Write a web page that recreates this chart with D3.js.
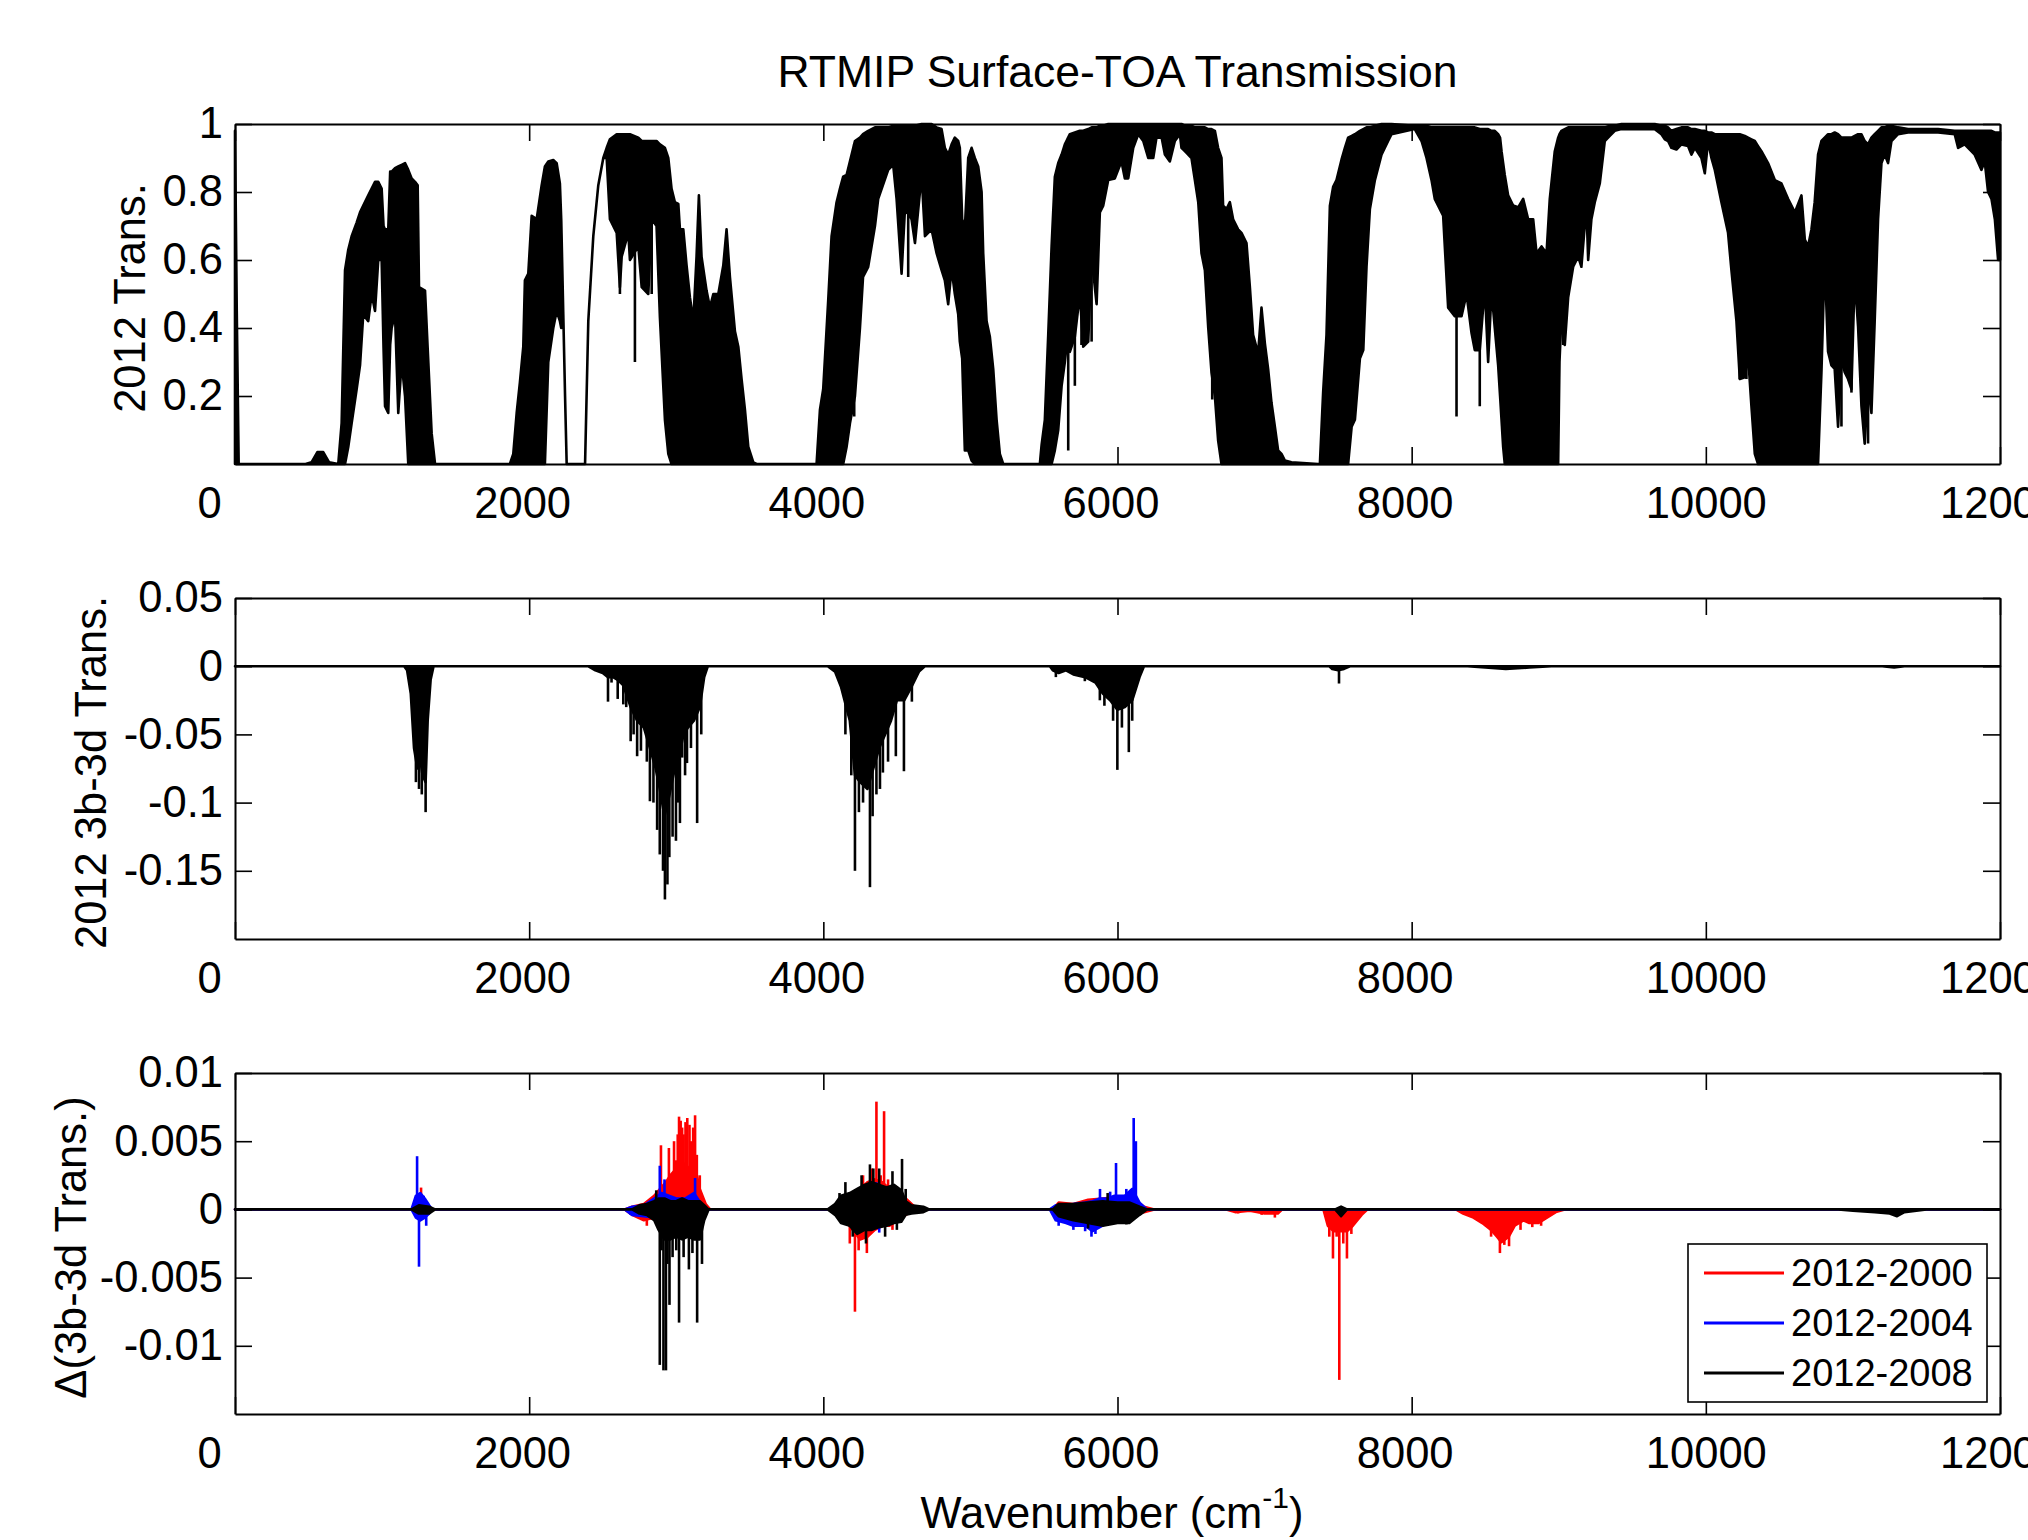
<!DOCTYPE html>
<html>
<head>
<meta charset="utf-8">
<script src="https://cdn.jsdelivr.net/npm/d3@7"></script>
<style>
  html, body { margin: 0; padding: 0; background: #fff; }
  svg { display: block; }
</style>
</head>
<body>
<svg id="chart" width="2028" height="1540"></svg>
<script>
//--------------------------------------------------
// data
//--------------------------------------------------

var xTicks = [0, 2000, 4000, 6000, 8000, 10000, 12000];
var transTicks = [0.2, 0.4, 0.6, 0.8, 1];
var diffTicks = [-0.15, -0.1, -0.05, 0, 0.05];
var deltaTicks = [-0.01, -0.005, 0, 0.005, 0.01];

var seriesNames = ['2012-2000', '2012-2004', '2012-2008'];
var seriesColors = ['#ff0000', '#0000ff', '#000000'];

// 2012 transmission: [wavenumber, lower envelope, upper envelope]
var transBand = [
  [0, 0, 0.98], [12, 0, 0.45], [25, 0, 0], [480, 0, 0], [520, 0, 0.005], [560, 0, 0.035], [600, 0, 0.035], [640, 0, 0.005], [702, 0, 0],
  [725, 0, 0.12], [748, 0, 0.57], [770, 0.05, 0.63], [793, 0.12, 0.67], [827, 0.22, 0.71], [850, 0.29, 0.74], [872, 0.44, 0.76],
  [906, 0.42, 0.79], [929, 0.5, 0.81], [952, 0.45, 0.83], [974, 0.6, 0.83], [997, 0.6, 0.81], [1010, 0.34, 0.7], [1020, 0.17, 0.69],
  [1042, 0.15, 0.69], [1055, 0.35, 0.86], [1065, 0.4, 0.86], [1088, 0.44, 0.87], [1110, 0.15, 0.875], [1133, 0.3, 0.88],
  [1156, 0.2, 0.885], [1178, 0, 0.865], [1201, 0, 0.84], [1224, 0, 0.83], [1242, 0, 0.82], [1251, 0, 0.52], [1292, 0, 0.51],
  [1310, 0, 0.34], [1337, 0, 0.09], [1360, 0, 0],
  [1869, 0, 0], [1892, 0, 0.03], [1915, 0, 0.15], [1937, 0, 0.24], [1960, 0, 0.345], [1971, 0, 0.54], [1994, 0, 0.56],
  [2017, 0, 0.73], [2051, 0, 0.72], [2085, 0, 0.82], [2107, 0, 0.875], [2130, 0.3, 0.89], [2164, 0.4, 0.894], [2187, 0.45, 0.885],
  [2209, 0.42, 0.825], [2218, 0.4, 0.72], [2232, 0.44, 0.44], [2244, 0.2, 0.2], [2255, 0, 0],
  [2380, 0, 0], [2402, 0.42, 0.42], [2436, 0.67, 0.67], [2470, 0.82, 0.82], [2504, 0.9, 0.9], [2527, 0.9, 0.93], [2549, 0.72, 0.955],
  [2595, 0.68, 0.97], [2617, 0.52, 0.97], [2629, 0.61, 0.97], [2674, 0.68, 0.97], [2685, 0.6, 0.97], [2742, 0.64, 0.96],
  [2765, 0.52, 0.95], [2810, 0.5, 0.95], [2833, 0.72, 0.95], [2866, 0.7, 0.95], [2889, 0.43, 0.94], [2923, 0.13, 0.93],
  [2946, 0.03, 0.9], [2968, 0, 0.81], [2991, 0, 0.77], [3014, 0, 0.765], [3025, 0, 0.69], [3048, 0, 0.69], [3070, 0, 0.585],
  [3093, 0, 0.49], [3116, 0, 0.42], [3138, 0, 0.61], [3154, 0, 0.79], [3172, 0, 0.61], [3206, 0, 0.51], [3229, 0, 0.46],
  [3252, 0, 0.5], [3286, 0, 0.5], [3320, 0, 0.585], [3342, 0, 0.69], [3365, 0, 0.55], [3399, 0, 0.39], [3422, 0, 0.345],
  [3444, 0, 0.25], [3467, 0, 0.16], [3490, 0, 0.05], [3524, 0, 0.005], [3546, 0, 0],
  [3954, 0, 0], [3977, 0, 0.16], [3999, 0, 0.22], [4033, 0, 0.48], [4056, 0, 0.67], [4090, 0, 0.77], [4113, 0, 0.81],
  [4135, 0, 0.845], [4158, 0.05, 0.85], [4181, 0.12, 0.89], [4215, 0.2, 0.95], [4249, 0.4, 0.96], [4270, 0.55, 0.97],
  [4305, 0.58, 0.98], [4351, 0.7, 0.99], [4373, 0.78, 0.99], [4441, 0.865, 0.99], [4475, 0.88, 0.995], [4498, 0.78, 0.995],
  [4532, 0.56, 0.995], [4555, 0.75, 0.995], [4600, 0.72, 0.995], [4623, 0.65, 0.995], [4668, 0.85, 1], [4691, 0.67, 1],
  [4736, 0.69, 1], [4770, 0.62, 0.99], [4804, 0.57, 0.985], [4826, 0.54, 0.93], [4849, 0.47, 0.91], [4872, 0.575, 0.94],
  [4894, 0.5, 0.96], [4917, 0.44, 0.95], [4928, 0.36, 0.93], [4944, 0.31, 0.72], [4962, 0.04, 0.69], [4985, 0.04, 0.9],
  [5008, 0.01, 0.93], [5030, 0, 0.9], [5053, 0, 0.875], [5076, 0, 0.8], [5087, 0, 0.62], [5110, 0, 0.42], [5132, 0, 0.375],
  [5155, 0, 0.28], [5178, 0, 0.13], [5200, 0, 0.03], [5223, 0, 0],
  [5472, 0, 0], [5484, 0, 0.056], [5506, 0, 0.13], [5529, 0, 0.38], [5552, 0, 0.64], [5574, 0.04, 0.845], [5597, 0.1, 0.885],
  [5620, 0.23, 0.91], [5642, 0.3, 0.94], [5653, 0.345, 0.95], [5676, 0.33, 0.97], [5710, 0.375, 0.975], [5744, 0.5, 0.98],
  [5767, 0.345, 0.98], [5801, 0.36, 0.985], [5824, 0.61, 0.99], [5858, 0.47, 0.99], [5880, 0.74, 0.995], [5903, 0.76, 0.995],
  [5937, 0.835, 1], [5982, 0.84, 1], [6027, 0.89, 1], [6050, 0.84, 1], [6073, 0.84, 1], [6107, 0.93, 1], [6141, 0.97, 1],
  [6175, 0.95, 1], [6209, 0.9, 1], [6243, 0.9, 1], [6265, 0.96, 1], [6300, 0.96, 1], [6322, 0.91, 1], [6356, 0.89, 1],
  [6390, 0.95, 1], [6424, 0.97, 1], [6435, 0.93, 1], [6458, 0.92, 0.995], [6503, 0.9, 0.995], [6526, 0.835, 0.99],
  [6549, 0.77, 0.99], [6571, 0.62, 0.99], [6594, 0.57, 0.99], [6617, 0.4, 0.985], [6639, 0.27, 0.985], [6662, 0.2, 0.98],
  [6684, 0.07, 0.93], [6707, 0, 0.9], [6718, 0, 0.76], [6741, 0, 0.75], [6764, 0, 0.77], [6786, 0, 0.72], [6820, 0, 0.69],
  [6843, 0, 0.68], [6877, 0, 0.65], [6900, 0, 0.52], [6922, 0, 0.38], [6956, 0, 0.325], [6979, 0, 0.46], [7002, 0, 0.355],
  [7024, 0, 0.28], [7047, 0, 0.18], [7070, 0, 0.11], [7092, 0, 0.04], [7115, 0, 0.03], [7138, 0, 0.01], [7183, 0, 0.005],
  [7364, 0, 0],
  [7376, 0, 0], [7398, 0, 0.21], [7421, 0, 0.38], [7444, 0, 0.76], [7466, 0, 0.815], [7489, 0, 0.835], [7523, 0, 0.895],
  [7546, 0, 0.93], [7568, 0, 0.96], [7592, 0.11, 0.965], [7614, 0.13, 0.97], [7648, 0.31, 0.98], [7671, 0.335, 0.985],
  [7693, 0.58, 0.99], [7716, 0.75, 0.99], [7750, 0.835, 0.995], [7795, 0.91, 1], [7840, 0.95, 1], [7863, 0.97, 1],
  [8021, 0.985, 0.995], [8067, 0.95, 0.995], [8101, 0.9, 0.995], [8135, 0.835, 0.99], [8157, 0.78, 0.99], [8180, 0.76, 0.99],
  [8214, 0.73, 0.99], [8248, 0.46, 0.99], [8293, 0.435, 0.99], [8339, 0.435, 0.99], [8373, 0.5, 0.99], [8407, 0.385, 0.99],
  [8429, 0.335, 0.99], [8463, 0.335, 0.985], [8497, 0.52, 0.985], [8520, 0.3, 0.985], [8543, 0.51, 0.98], [8565, 0.4, 0.98],
  [8588, 0.29, 0.97], [8601, 0.2, 0.96], [8611, 0.13, 0.92], [8622, 0.05, 0.885], [8633, 0, 0.85], [8656, 0, 0.79],
  [8690, 0, 0.76], [8724, 0, 0.755], [8758, 0, 0.78], [8792, 0, 0.72], [8826, 0, 0.72], [8849, 0, 0.62], [8883, 0, 0.64],
  [8917, 0, 0.62], [8939, 0, 0.78], [8973, 0, 0.92], [8996, 0, 0.96], [9005, 0.3, 0.97], [9018, 0.43, 0.98], [9041, 0.35, 0.985],
  [9064, 0.49, 0.99], [9098, 0.58, 0.99], [9132, 0.61, 0.99], [9154, 0.58, 0.99], [9188, 0.76, 0.99], [9200, 0.6, 0.99],
  [9222, 0.72, 0.99], [9245, 0.77, 0.99], [9279, 0.825, 0.99], [9313, 0.95, 0.99], [9347, 0.965, 0.995], [9381, 0.98, 0.995],
  [9426, 0.985, 1], [9653, 0.985, 1], [9698, 0.97, 0.995], [9721, 0.955, 0.995], [9743, 0.95, 0.99], [9766, 0.93, 0.98],
  [9800, 0.925, 0.985], [9834, 0.94, 0.99], [9879, 0.935, 0.99], [9902, 0.91, 0.985], [9925, 0.93, 0.985], [9970, 0.9, 0.98],
  [9993, 0.855, 0.98], [10015, 0.95, 0.975], [10038, 0.9, 0.975], [10061, 0.865, 0.97], [10106, 0.77, 0.97], [10151, 0.68, 0.97],
  [10174, 0.57, 0.97], [10208, 0.42, 0.97], [10231, 0.25, 0.97], [10265, 0.255, 0.965], [10287, 0.32, 0.96], [10310, 0.17, 0.955],
  [10333, 0.03, 0.95], [10355, 0, 0.935], [10378, 0, 0.92], [10423, 0, 0.885], [10469, 0, 0.835], [10514, 0, 0.825],
  [10559, 0, 0.78], [10605, 0, 0.74], [10650, 0, 0.79], [10673, 0, 0.66], [10695, 0, 0.64], [10718, 0, 0.69], [10740, 0, 0.77],
  [10763, 0, 0.91], [10786, 0.27, 0.95], [10808, 0.6, 0.96], [10831, 0.33, 0.97], [10854, 0.29, 0.97], [10876, 0.28, 0.975],
  [10899, 0.11, 0.97], [10922, 0.31, 0.96], [10944, 0.27, 0.96], [10967, 0.25, 0.96], [10990, 0.22, 0.96], [11012, 0.55, 0.965],
  [11035, 0.405, 0.97], [11058, 0.17, 0.97], [11080, 0.06, 0.95], [11103, 0.23, 0.94], [11126, 0.15, 0.96], [11148, 0.42, 0.97],
  [11171, 0.72, 0.98], [11194, 0.885, 0.99], [11216, 0.91, 0.99], [11239, 0.885, 0.995], [11262, 0.95, 0.995], [11307, 0.97, 0.99],
  [11375, 0.975, 0.985], [11579, 0.975, 0.985], [11692, 0.97, 0.98], [11715, 0.93, 0.98], [11760, 0.94, 0.98], [11828, 0.91, 0.98],
  [11874, 0.865, 0.98], [11896, 0.89, 0.98], [11919, 0.8, 0.98], [11942, 0.78, 0.98], [11965, 0.72, 0.975], [11987, 0.6, 0.975],
  [12000, 0.6, 0.975]
];

// isolated deep lines below the envelope: [wavenumber, transmission]
var transSpikes = [
  [2617, 0.5], [2719, 0.3], [2833, 0.5], [4210, 0.14], [4577, 0.55], [5665, 0.04], [5710, 0.23], [5755, 0.35],
  [5824, 0.36], [6644, 0.19], [8305, 0.14], [8463, 0.17], [9030, 0.35], [10231, 0.25], [10276, 0.25],
  [10922, 0.11], [10990, 0.21], [11103, 0.06]
];

// 2012 3b-3d difference: [wavenumber, lower envelope] (upper is 0)
var diffBand = [
  [0, 0], [1150, 0], [1170, -0.003], [1195, -0.02], [1217, -0.06], [1240, -0.075], [1255, -0.065], [1275, -0.08], [1296, -0.085],
  [1310, -0.04], [1330, -0.01], [1350, 0],
  [2400, 0], [2450, -0.003], [2500, -0.005], [2536, -0.008], [2570, -0.008], [2602, -0.01], [2640, -0.014], [2690, -0.03],
  [2734, -0.04], [2780, -0.045], [2821, -0.06], [2860, -0.075], [2888, -0.09], [2920, -0.11], [2953, -0.095], [2990, -0.075],
  [3020, -0.065], [3050, -0.05], [3080, -0.045], [3120, -0.04], [3160, -0.03], [3190, -0.008], [3215, 0],
  [4030, 0], [4080, -0.004], [4120, -0.015], [4180, -0.04], [4215, -0.08], [4250, -0.085], [4300, -0.09], [4340, -0.075],
  [4380, -0.06], [4420, -0.05], [4460, -0.04], [4500, -0.025], [4550, -0.025], [4600, -0.015], [4650, -0.004], [4690, 0],
  [5540, 0], [5560, -0.003], [5600, -0.005], [5650, -0.003], [5700, -0.006], [5780, -0.008], [5850, -0.012], [5900, -0.02],
  [5950, -0.025], [6000, -0.032], [6050, -0.03], [6100, -0.025], [6150, -0.008], [6180, 0],
  [7440, 0], [7460, -0.002], [7500, -0.003], [7540, -0.002], [7580, 0],
  [8380, 0], [8500, -0.001], [8640, -0.002], [8800, -0.001], [8950, 0],
  [11200, 0], [11280, -0.001], [11350, 0], [12000, 0]
];

var diffSpikes = [
  [1230, -0.085], [1251, -0.09], [1270, -0.094], [1296, -0.107], [2536, -0.026], [2560, -0.012], [2602, -0.024],
  [2640, -0.028], [2660, -0.03], [2690, -0.055], [2710, -0.05], [2734, -0.066], [2760, -0.062], [2800, -0.07],
  [2821, -0.099], [2845, -0.1], [2870, -0.12], [2888, -0.138], [2910, -0.15], [2923, -0.171], [2940, -0.16],
  [2953, -0.14], [2975, -0.125], [2998, -0.128], [3010, -0.1], [3025, -0.115], [3040, -0.067], [3060, -0.08],
  [3073, -0.071], [3100, -0.06], [3142, -0.115], [3170, -0.05], [4150, -0.05], [4190, -0.08], [4215, -0.15],
  [4242, -0.107], [4270, -0.1], [4317, -0.162], [4335, -0.11], [4361, -0.094], [4385, -0.09], [4405, -0.078],
  [4440, -0.07], [4493, -0.066], [4548, -0.077], [4602, -0.026], [5581, -0.008], [5778, -0.011], [5880, -0.025],
  [5911, -0.029], [5970, -0.04], [5999, -0.076], [6030, -0.045], [6077, -0.063], [6100, -0.04], [7506, -0.0127]
];

// year-to-year change of the difference: [wavenumber, lower, upper] and spikes [wavenumber, value]
var band2000 = [
  [0, 0, 0], [1240, 0, 0], [1270, -0.0004, 0.001], [1300, -0.0003, 0.0004], [1320, 0, 0],
  [2650, 0, 0], [2700, -0.0004, 0.0002], [2780, -0.0008, 0.0004], [2850, -0.0006, 0.001], [2890, -0.0004, 0.0015],
  [2930, -0.0003, 0.002], [2960, 0, 0.0025], [3000, 0.0005, 0.003], [3040, 0.0008, 0.0035], [3080, 0.0005, 0.003],
  [3120, 0.0008, 0.0035], [3160, 0.0003, 0.0015], [3200, 0, 0.0004], [3230, 0, 0],
  [4050, 0, 0], [4100, -0.0004, 0.0004], [4150, -0.0008, 0.0008], [4200, -0.0015, 0.0012], [4250, -0.0022, 0.0015],
  [4300, -0.002, 0.002], [4350, -0.0015, 0.0022], [4400, -0.0012, 0.002], [4450, -0.0012, 0.0015], [4500, -0.0008, 0.0012],
  [4560, -0.0004, 0.0008], [4620, 0, 0.0002], [4700, 0, 0],
  [5560, 0, 0], [5600, -0.0004, 0.0005], [5700, -0.0008, 0.0004], [5800, -0.0008, 0.0007], [5900, -0.0006, 0.0008],
  [6000, -0.0004, 0.0009], [6100, -0.0004, 0.0008], [6180, -0.0002, 0.0002], [6250, 0, 0],
  [6740, 0, 0], [6800, -0.0002, 0], [6900, -0.0001, 0], [7000, -0.0003, 0], [7090, -0.0003, 0], [7120, 0, 0],
  [7400, 0, 0], [7430, -0.0012, 0], [7470, -0.0016, 0], [7520, -0.0016, 0], [7560, -0.0016, 0], [7600, -0.0012, 0],
  [7660, -0.0004, 0], [7700, 0, 0],
  [8300, 0, 0], [8350, -0.0003, 0], [8420, -0.0006, 0], [8480, -0.001, 0], [8540, -0.0015, 0], [8580, -0.002, 0],
  [8610, -0.0024, 0], [8660, -0.002, 0], [8700, -0.0012, 0], [8760, -0.0008, 0], [8800, -0.001, 0], [8860, -0.001, 0],
  [8920, -0.0006, 0], [8980, -0.0002, 0], [9040, 0, 0], [12000, 0, 0]
];
var spikes2000 = [
  [1265, 0.0016], [2800, -0.0012], [2896, 0.0047], [2950, 0.0045], [2985, 0.005], [3000, 0.0036], [3010, 0.0055],
  [3019, 0.0068], [3030, 0.0065], [3040, 0.006], [3050, 0.0055], [3063, 0.0064], [3075, 0.0067], [3090, 0.0062],
  [3100, 0.005], [3115, 0.006], [3128, 0.0069], [3140, 0.004], [3160, 0.0025],
  [4180, -0.0025], [4215, -0.0075], [4240, -0.003], [4270, 0.0025], [4296, -0.0032], [4330, 0.003], [4361, 0.0079],
  [4390, 0.0025], [4413, 0.0072], [4440, 0.0022], [4470, -0.0015],
  [6820, -0.0003], [6980, -0.0004], [7070, -0.0006],
  [7440, -0.002], [7465, -0.0036], [7490, -0.002], [7508, -0.0125], [7535, -0.0025], [7560, -0.0036], [7590, -0.0018],
  [8540, -0.002], [8600, -0.0032], [8630, -0.0026], [8662, -0.0027], [8740, -0.0015], [8820, -0.0013], [8880, -0.0012]
];

var band2004 = [
  [0, 0, 0], [1200, 0, 0], [1230, -0.0006, 0.001], [1260, -0.0008, 0.0012], [1290, -0.0006, 0.0008], [1320, -0.0003, 0.0003],
  [1340, 0, 0],
  [2650, 0, 0], [2700, -0.0004, 0.0002], [2780, -0.0005, 0.0003], [2850, -0.0006, 0.0008], [2900, -0.0008, 0.0012],
  [2950, -0.0005, 0.001], [3000, -0.0005, 0.0008], [3060, -0.0005, 0.0008], [3120, -0.0005, 0.0012], [3170, -0.0003, 0.0004],
  [3210, 0, 0],
  [4100, 0, 0], [4200, -0.0005, 0.0006], [4300, -0.0008, 0.0012], [4400, -0.0006, 0.001], [4500, -0.0004, 0.0006], [4600, 0, 0],
  [5540, 0, 0], [5580, -0.0008, 0.0003], [5650, -0.001, 0.0002], [5700, -0.0012, 0.0004], [5780, -0.0012, 0.0005],
  [5830, -0.0016, 0.0006], [5880, -0.0013, 0.0008], [5930, -0.001, 0.0008], [5980, -0.0008, 0.001], [6050, -0.0006, 0.001],
  [6100, -0.0004, 0.0015], [6150, -0.0002, 0.0005], [6200, 0, 0], [12000, 0, 0]
];
var spikes2004 = [
  [1238, 0.0039], [1251, -0.0042], [1283, 0.001], [1300, -0.0012], [2690, -0.0004], [2888, 0.0032], [2920, 0.0022],
  [3128, 0.0023], [4360, 0.002], [4380, -0.0017], [5600, -0.0012], [5700, -0.0015], [5780, -0.0016], [5823, -0.002],
  [5850, -0.0018], [5881, 0.0015], [5950, 0.0013], [5990, 0.0034], [6060, 0.0015], [6110, 0.0067], [6118, 0.0044],
  [6125, 0.005]
];

var band2008 = [
  [0, 0, 0], [1200, 0, 0], [1250, -0.0003, 0.0003], [1320, -0.0003, 0.0002], [1360, 0, 0],
  [2700, 0, 0], [2750, -0.0003, 0.0003], [2800, -0.0004, 0.0004], [2850, -0.0008, 0.0006], [2880, -0.0015, 0.0008],
  [2920, -0.0022, 0.0008], [2960, -0.0022, 0.0006], [3000, -0.002, 0.0006], [3040, -0.0022, 0.0008], [3080, -0.002, 0.0006],
  [3120, -0.0022, 0.0006], [3160, -0.0022, 0.0006], [3190, -0.0008, 0.0003], [3220, 0, 0],
  [4030, 0, 0], [4080, -0.0004, 0.0004], [4120, -0.001, 0.001], [4180, -0.0012, 0.0012], [4230, -0.0018, 0.0015],
  [4280, -0.0015, 0.0018], [4330, -0.0015, 0.002], [4380, -0.0013, 0.0018], [4430, -0.0012, 0.0016], [4480, -0.001, 0.0018],
  [4530, -0.0009, 0.0014], [4560, -0.0004, 0.0006], [4600, -0.0003, 0.0003], [4680, -0.0002, 0.0002], [4720, 0, 0],
  [5560, 0, 0], [5600, -0.0005, 0.0004], [5700, -0.0008, 0.0004], [5800, -0.001, 0.0005], [5900, -0.0012, 0.0006],
  [6000, -0.001, 0.0005], [6080, -0.001, 0.0005], [6150, -0.0004, 0.0002], [6200, 0, 0],
  [7480, 0, 0], [7520, -0.0005, 0.0002], [7560, 0, 0],
  [10900, 0, 0], [11000, -0.0001, 0], [11150, -0.0002, 0], [11250, -0.0003, 0], [11300, -0.0005, 0], [11350, -0.0002, 0],
  [11500, 0, 0], [12000, 0, 0]
];
var spikes2008 = [
  [2864, 0.0014], [2888, -0.0114], [2900, -0.003], [2913, -0.0118], [2930, -0.0118], [2940, -0.004], [2954, -0.007],
  [2975, -0.0035], [3000, -0.003], [3019, -0.0083], [3050, -0.0035], [3086, -0.0044], [3110, -0.0032], [3142, -0.0083],
  [3175, -0.004], [4110, 0.0012], [4150, 0.002], [4200, -0.002], [4260, 0.0025], [4290, -0.0025], [4317, 0.0033],
  [4340, 0.003], [4380, 0.003], [4420, -0.002], [4470, 0.0028], [4500, -0.0015], [4535, 0.0037], [4560, 0.0015],
  [5800, -0.0014], [5933, 0.0012], [6060, -0.0011]
];

//--------------------------------------------------
// layout
//--------------------------------------------------

var FONT = '"Liberation Sans", Arial, Helvetica, sans-serif';
var FONT_SIZE = 43.5;
var LINE_W = 2.6;
var left = 235, right = 2000;

var panels = [
  { top: 124, bottom: 464, domain: [0, 1], ticks: transTicks, label: '2012 Trans.', labelX: 145 },
  { top: 598, bottom: 939, domain: [-0.2, 0.05], ticks: diffTicks, label: '2012 3b-3d Trans.', labelX: 106 },
  { top: 1073, bottom: 1414, domain: [-0.015, 0.01], ticks: deltaTicks, label: '\u0394(3b-3d Trans.)', labelX: 86 }
];

// MATLAB-style label nudge by label length
var xLabelNudge = { 1: -26, 4: -7, 5: 0 };

var svg = d3.select('#chart')
  .attr('font-family', FONT);

svg.append('rect')
  .attr('width', 2028)
  .attr('height', 1540)
  .attr('fill', '#fff');

var frames = panels.map(makeFrame);

drawTransmission(frames[0]);
drawDifference(frames[1]);
drawDelta(frames[2]);

frames.forEach(drawAxes);
drawLegend();
drawTitles();

//--------------------------------------------------
//
//--------------------------------------------------

function makeFrame(p, i) {
  var w = right - left,
    h = p.bottom - p.top;

  var x = d3.scaleLinear().domain([0, 12000]).range([0, w]);
  var y = d3.scaleLinear().domain(p.domain).range([h, 0]);

  var g = svg.append('g')
    .attr('transform', 'translate(' + left + ',' + p.top + ')');

  g.append('clipPath')
    .attr('id', 'clip' + i)
    .append('rect')
    .attr('x', -2)
    .attr('y', -2)
    .attr('width', w + 4)
    .attr('height', h + 4);

  var plot = g.append('g')
    .attr('clip-path', 'url(#clip' + i + ')');

  return { p: p, g: g, plot: plot, x: x, y: y, w: w, h: h };
}

function hiAt(band, wn) {
  var i = d3.bisector(function(d) { return d[0]; }).left(band, wn);
  if (i <= 0) return band[0][2];
  if (i >= band.length) return band[band.length - 1][2];
  var a = band[i - 1], b = band[i];
  var t = (wn - a[0]) / (b[0] - a[0] || 1);
  return a[2] + t * (b[2] - a[2]);
}

function bandArea(f) {
  return d3.area()
    .x(function(d) { return f.x(d[0]); })
    .y0(function(d) { return f.y(d[1]); })
    .y1(function(d) { return f.y(d[2]); });
}

function drawBand(f, band, color) {
  f.plot.append('path')
    .datum(band)
    .attr('d', bandArea(f))
    .attr('fill', color)
    .attr('stroke', color)
    .attr('stroke-width', LINE_W)
    .attr('stroke-linejoin', 'round');
}

function drawSpikes(f, spikes, color, fromFn) {
  f.plot.append('g')
    .selectAll('line')
    .data(spikes)
    .enter().append('line')
    .attr('x1', function(d) { return f.x(d[0]); })
    .attr('x2', function(d) { return f.x(d[0]); })
    .attr('y1', function(d) { return f.y(fromFn(d)); })
    .attr('y2', function(d) { return f.y(d[1]); })
    .attr('stroke', color)
    .attr('stroke-width', LINE_W);
}

function drawTransmission(f) {
  drawBand(f, transBand, '#000');
  drawSpikes(f, transSpikes, '#000', function(d) { return hiAt(transBand, d[0]); });
}

function drawDifference(f) {
  var band = diffBand.map(function(d) { return [d[0], d[1], 0]; });
  drawBand(f, band, '#000');
  drawSpikes(f, diffSpikes, '#000', function() { return 0; });
}

function drawDelta(f) {
  var bands = [band2000, band2004, band2008];
  var spikes = [spikes2000, spikes2004, spikes2008];
  bands.forEach(function(band, i) {
    drawBand(f, band, seriesColors[i]);
    drawSpikes(f, spikes[i], seriesColors[i], function() { return 0; });
  });
}

function styleAxis(sel, fontSize) {
  sel.attr('font-family', FONT)
    .attr('font-size', fontSize);
  sel.select('.domain')
    .attr('stroke', '#000')
    .attr('stroke-width', 2);
  sel.selectAll('.tick line')
    .attr('stroke', '#000')
    .attr('stroke-width', 1.6);
  sel.selectAll('.tick text')
    .attr('fill', '#000');
}

function drawAxes(f) {
  var g = f.g, x = f.x, y = f.y;
  var blank = function() { return ''; };

  var bottom = g.append('g')
    .attr('transform', 'translate(0,' + f.h + ')')
    .call(d3.axisBottom(x).tickValues(xTicks).tickFormat(String)
      .tickSizeInner(-17).tickSizeOuter(0).tickPadding(23));
  styleAxis(bottom, FONT_SIZE);
  bottom.selectAll('.tick text')
    .attr('dx', function(d) { return xLabelNudge[String(d).length] || 0; });

  var top = g.append('g')
    .call(d3.axisTop(x).tickValues(xTicks).tickFormat(blank)
      .tickSizeInner(-17).tickSizeOuter(0));
  styleAxis(top, FONT_SIZE);

  var leftAxis = g.append('g')
    .call(d3.axisLeft(y).tickValues(f.p.ticks).tickFormat(String)
      .tickSizeInner(-17).tickSizeOuter(0).tickPadding(12));
  styleAxis(leftAxis, FONT_SIZE);

  var rightAxis = g.append('g')
    .attr('transform', 'translate(' + f.w + ',0)')
    .call(d3.axisRight(y).tickValues(f.p.ticks).tickFormat(blank)
      .tickSizeInner(-17).tickSizeOuter(0));
  styleAxis(rightAxis, FONT_SIZE);

  // y label
  svg.append('text')
    .attr('transform', 'translate(' + f.p.labelX + ',' + (f.p.top + f.h / 2 + 4) + ') rotate(-90)')
    .attr('text-anchor', 'middle')
    .attr('font-size', FONT_SIZE)
    .attr('fill', '#000')
    .text(f.p.label);
}

function drawLegend() {
  var lg = svg.append('g')
    .attr('transform', 'translate(1688,1244)');

  lg.append('rect')
    .attr('width', 299)
    .attr('height', 158)
    .attr('fill', '#fff')
    .attr('stroke', '#000')
    .attr('stroke-width', 1.6);

  seriesNames.forEach(function(name, i) {
    var cy = 29 + i * 50;
    lg.append('line')
      .attr('x1', 16)
      .attr('x2', 96)
      .attr('y1', cy)
      .attr('y2', cy)
      .attr('stroke', seriesColors[i])
      .attr('stroke-width', 3);
    lg.append('text')
      .attr('x', 103)
      .attr('y', cy)
      .attr('dy', '0.35em')
      .attr('font-size', 38)
      .attr('fill', '#000')
      .text(name);
  });
}

function drawTitles() {
  svg.append('text')
    .attr('x', (left + right) / 2)
    .attr('y', 87)
    .attr('text-anchor', 'middle')
    .attr('font-size', 44.5)
    .attr('fill', '#000')
    .text('RTMIP Surface-TOA Transmission');

  var xl = svg.append('text')
    .attr('x', 1112)
    .attr('y', 1528)
    .attr('text-anchor', 'middle')
    .attr('font-size', FONT_SIZE)
    .attr('fill', '#000');
  xl.append('tspan').text('Wavenumber (cm');
  xl.append('tspan').attr('font-size', 30).attr('dy', -20).text('-1');
  xl.append('tspan').attr('dy', 20).text(')');
}
</script>
</body>
</html>
